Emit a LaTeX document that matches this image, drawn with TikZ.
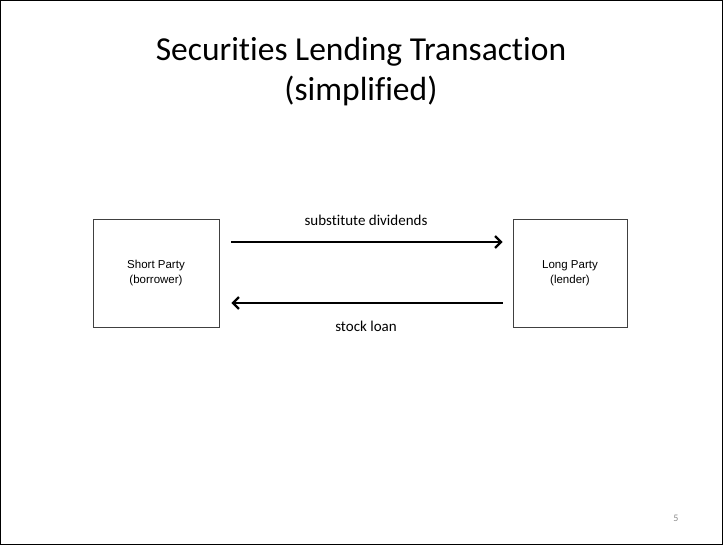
\documentclass[tikz,border=0pt]{standalone}
\usepackage{fontspec}
\setmainfont{Carlito}[RawFeature=-liga]
\newfontfamily\arialfont{Liberation Sans}
\usetikzlibrary{arrows.meta}

\begin{document}
\begin{tikzpicture}[x=1pt,y=-1pt,
  party/.style={draw=black!75,line width=0.8pt,minimum height=108pt,
    align=center,font=\arialfont\fontsize{11.5}{15}\selectfont},
  flow/.style={line width=2.4pt,-{Straight Barb[length=6pt,width=12pt,line width=2.2pt]}},
  descr/.style={font=\fontsize{15}{18}\selectfont}]
  \useasboundingbox (0,0) rectangle (723,545);
  \draw[line width=1.2pt] (0.6,0.6) rectangle (722.4,544.4);
  % title
  \node[font=\fontsize{33.5}{40}\selectfont,align=center] (title) at (361,72)
    {Securities Lending Transaction\\(simplified)};
  % the two parties
  \node[party,minimum width=126pt] (short) at (156,273) {Short Party\\(borrower)};
  \node[party,minimum width=114pt] (long) at (570,273) {Long Party\\(lender)};
  \path[flow,shorten <=12pt,shorten >=10pt] ([yshift=31pt]short.east) edge
    node[above=12pt,descr] {substitute dividends} ([yshift=31pt]long.west);
  \path[flow,shorten <=10pt,shorten >=12pt] ([yshift=-30pt]long.west) edge
    node[below=14pt,descr] {stock loan} ([yshift=-30pt]short.east);
  % slide number
  \node[font=\fontsize{10}{12}\selectfont,text=black!45] (page) at (676,518) {5};
\end{tikzpicture}
\end{document}
